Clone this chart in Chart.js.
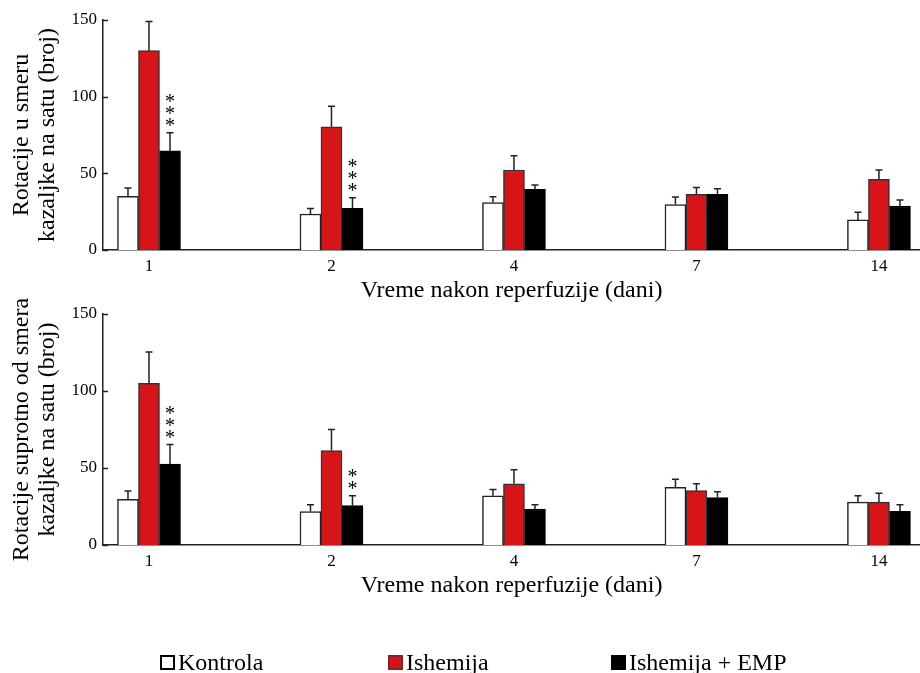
<!DOCTYPE html>
<html>
<head>
<meta charset="utf-8">
<script src="https://cdn.jsdelivr.net/npm/chart.js@4.4.0/dist/chart.umd.min.js"></script>
<style>
  html, body { margin: 0; padding: 0; background: #fff; }
  #wrap { position: relative; width: 920px; height: 673px; overflow: hidden; }
  canvas { position: absolute; left: 0; }
  #top { top: 0; }
  #bottom { top: 294px; }
</style>
</head>
<body>
<div id="wrap">
  <canvas id="top" width="920" height="310"></canvas>
  <canvas id="bottom" width="920" height="379"></canvas>
</div>
<script>
// days after reperfusion (x tick labels)
var days = ['1', '2', '4', '7', '14'];
var seriesNames = ['Kontrola', 'Ishemija', 'Ishemija + EMP'];

// clockwise rotations per hour (mean and SEM)
var cwKontrola = [35, 23.5, 31, 29.6, 19.6];
var cwIshemija = [130, 80.4, 52.2, 36.3, 46.1];
var cwEmp = [64.6, 27.2, 39.6, 36.3, 28.7];
var cwKontrolaErr = [5.4, 3.5, 3.8, 5, 5];
var cwIshemijaErr = [19, 13.3, 9.3, 4.4, 6.1];
var cwEmpErr = [11.9, 6.8, 2.8, 3.7, 3.9];
var cwEmpStars = [3, 3, 0, 0, 0];

// counter-clockwise rotations per hour
var ccwKontrola = [29.7, 21.7, 32, 37.5, 27.8];
var ccwIshemija = [104.9, 61.3, 39.7, 35.3, 27.8];
var ccwEmp = [52.5, 25.6, 23.4, 30.8, 21.9];
var ccwKontrolaErr = [5.4, 4.5, 4, 5.2, 4.2];
var ccwIshemijaErr = [20.4, 13.7, 9.1, 4.4, 5.8];
var ccwEmpErr = [12.7, 6.4, 2.8, 3.7, 4.3];
var ccwEmpStars = [3, 2, 0, 0, 0];

var noStars = [0, 0, 0, 0, 0];
var fills = ['#ffffff', '#d71518', '#000000'];
var edges = ['#222222', '#333333', '#000000'];

var serif = "'Liberation Serif', 'Times New Roman', serif";
Chart.defaults.font.family = serif;
Chart.defaults.color = '#000';

// error bars, significance stars and inward y ticks
var extras = {
  id: 'extras',
  afterDatasetsDraw: function (chart) {
    var ctx = chart.ctx, ys = chart.scales.y, area = chart.chartArea;
    ctx.save();
    ctx.strokeStyle = '#222';
    ctx.lineWidth = 1.5;
    ys.ticks.forEach(function (t) {
      var py = Math.round(ys.getPixelForValue(t.value)) + 0.5;
      ctx.beginPath();
      ctx.moveTo(area.left, py);
      ctx.lineTo(area.left + 5, py);
      ctx.stroke();
    });
    ctx.font = '20px ' + serif;
    ctx.fillStyle = '#000';
    ctx.textAlign = 'center';
    ctx.textBaseline = 'alphabetic';
    chart.data.datasets.forEach(function (ds, d) {
      var meta = chart.getDatasetMeta(d);
      meta.data.forEach(function (bar, i) {
        var top = ys.getPixelForValue(ds.data[i].y + ds.err[i]);
        ctx.beginPath();
        ctx.moveTo(bar.x, bar.y);
        ctx.lineTo(bar.x, top);
        ctx.moveTo(bar.x - 3.5, top);
        ctx.lineTo(bar.x + 3.5, top);
        ctx.stroke();
        var m = ctx.measureText('*');
        var shift = (m.actualBoundingBoxAscent - m.actualBoundingBoxDescent) / 2;
        for (var k = 0; k < ds.stars[i]; k++) {
          ctx.fillText('*', bar.x, top - 10.5 - k * 12 + shift);
        }
      });
    });
    ctx.restore();
  }
};

var legendPlugin = {
  id: 'sideLegend',
  afterDraw: function (chart) {
    var ctx = chart.ctx;
    var xs = [160, 388, 611];
    ctx.save();
    ctx.font = '24px ' + serif;
    ctx.textBaseline = 'alphabetic';
    ctx.textAlign = 'left';
    seriesNames.forEach(function (name, s) {
      ctx.fillStyle = fills[s];
      ctx.fillRect(xs[s], 361, 15, 15);
      ctx.strokeStyle = s === 0 ? '#000' : edges[s];
      ctx.lineWidth = s === 0 ? 2 : 1;
      ctx.strokeRect(xs[s] + 1, 362, 13, 13);
      ctx.fillStyle = '#000';
      ctx.fillText(name, xs[s] + 18, 376);
    });
    ctx.restore();
  }
};

function makeChart(id, values, errors, stars, yTitle, bottomPad, plugins) {
  var datasets = seriesNames.map(function (name, s) {
    return {
      label: name,
      data: values[s].map(function (v, i) { return { x: i, y: v }; }),
      err: errors[s],
      stars: stars[s],
      backgroundColor: fills[s],
      borderColor: edges[s],
      borderWidth: 1.5,
      barThickness: 21
    };
  });
  return new Chart(document.getElementById(id).getContext('2d'), {
    type: 'bar',
    data: { datasets: datasets },
    plugins: plugins,
    options: {
      responsive: false,
      animation: false,
      layout: { padding: { top: 20, left: 0, right: 0, bottom: bottomPad } },
      plugins: { legend: { display: false }, tooltip: { enabled: false } },
      scales: {
        x: {
          type: 'linear',
          min: -0.252,
          max: 4.225,
          offset: false,
          grid: { display: false, drawTicks: false },
          border: { display: true, color: '#222', width: 1.5 },
          ticks: {
            stepSize: 1,
            includeBounds: false,
            padding: 6,
            font: { size: 17 },
            callback: function (v) { return days[v]; }
          },
          title: {
            display: true,
            text: 'Vreme nakon reperfuzije (dani)',
            font: { size: 24 },
            padding: { top: 0, bottom: 5 }
          },
          afterFit: function (s) { s.height = 60; }
        },
        y: {
          min: 0,
          max: 150,
          grid: { display: false, drawTicks: false },
          border: { display: true, color: '#222', width: 1.5 },
          ticks: { stepSize: 50, padding: 6, font: { size: 17 } },
          title: {
            display: true,
            text: yTitle,
            font: { size: 24, lineHeight: 1.083 },
            padding: { top: 9, bottom: 0 }
          },
          afterFit: function (s) { s.width = 103; }
        }
      }
    }
  });
}

makeChart('top',
  [cwKontrola, cwIshemija, cwEmp],
  [cwKontrolaErr, cwIshemijaErr, cwEmpErr],
  [noStars, noStars, cwEmpStars],
  ['Rotacije u smeru', 'kazaljke na satu (broj)'],
  0, [extras]);

makeChart('bottom',
  [ccwKontrola, ccwIshemija, ccwEmp],
  [ccwKontrolaErr, ccwIshemijaErr, ccwEmpErr],
  [noStars, noStars, ccwEmpStars],
  ['Rotacije suprotno od smera', 'kazaljke na satu (broj)'],
  68, [extras, legendPlugin]);
</script>
</body>
</html>
